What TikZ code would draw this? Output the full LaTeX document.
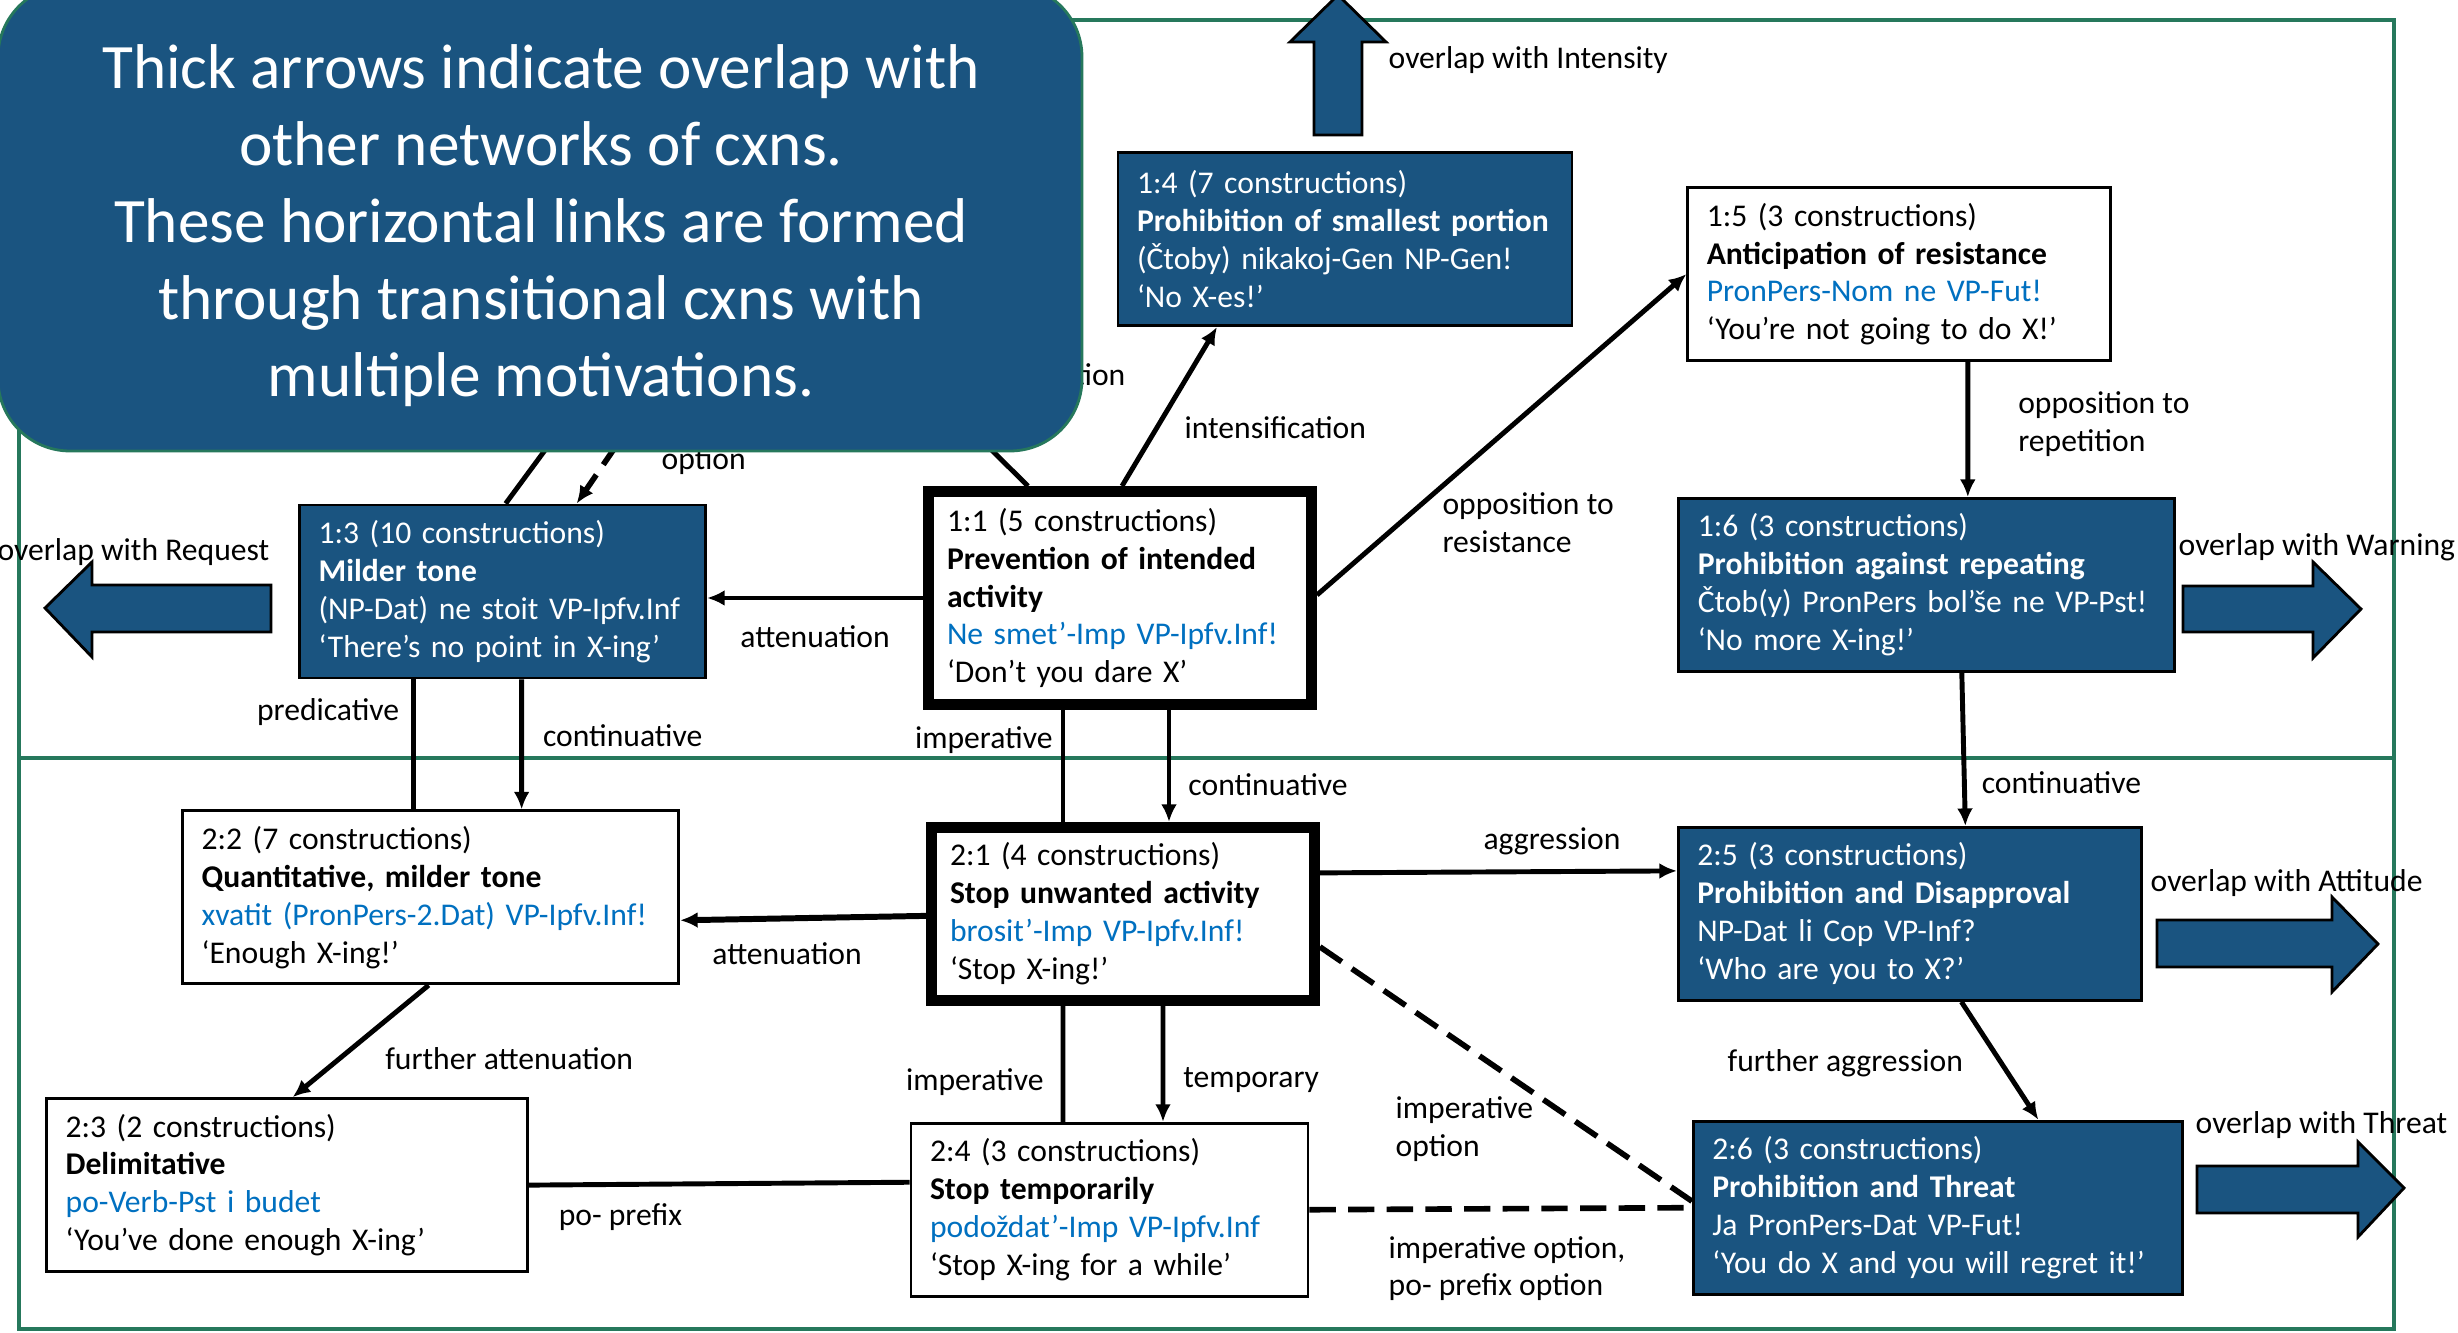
\documentclass[tikz,border=0pt]{standalone}
\usepackage{fontspec}
\setmainfont{Carlito}
\usepackage{xcolor}
\usepackage{tikz}
\usetikzlibrary{positioning, arrows.meta}

\definecolor{cxnfill}{RGB}{26,84,128}
\definecolor{cxnpattern}{RGB}{0,112,192}
\definecolor{framegreen}{RGB}{38,120,92}
\newcommand{\cxnform}[1]{\textcolor{cxnpattern}{#1}}

\begin{document}
\begin{tikzpicture}[node distance=1cm,>={Latex[length=5pt,width=4.5pt]},
    cxn/.style={draw, line width=0.8pt, fill=white, minimum height=1.73cm, inner xsep=0.19cm, inner ysep=0pt, align=left, font=\fontsize{9}{10.8}\selectfont},
    cxnblue/.style={cxn, fill=cxnfill, text=white},
    cxnmain/.style={cxn, line width=3.1pt, minimum height=2.13cm, inner xsep=0.185cm},
    link/.style={line width=1.4pt},
    optlink/.style={line width=1.6pt, dash pattern=on 7.5pt off 3.5pt},
    edgelabel/.style={inner sep=0pt, align=left, font=\fontsize{9}{10.8}\selectfont},
    overlaparrow/.style={draw, line width=0.8pt, fill=cxnfill},
    frameline/.style={draw=framegreen, line width=0.9pt},
    notebox/.style={fill=cxnfill, draw=framegreen, line width=0.8pt, rounded corners=0.72cm},
    notefont/.style={text=white, align=center, font=\fontsize{18}{21.9}\selectfont}]
        \useasboundingbox (0,0) rectangle (24.58,13.33);

        % Frame
        \draw[frameline] (0.19,0.04) rectangle (23.94,13.13);
        \draw[frameline] (0.19,5.75) -- (23.94,5.75);

        % Nodes
        \node (n11) [cxnmain, text width=3.46cm] at (11.20,7.35) {1:1 (5 constructions)\\\textbf{Prevention of intended}\\\textbf{activity}\\\cxnform{Ne smet’-Imp VP-Ipfv.Inf!}\\‘Don’t you dare X’};
        \node (n21) [cxnmain, text width=3.46cm, minimum height=1.73cm, below=1.12cm of n11, xshift=0.03cm] {2:1 (4 constructions)\\\textbf{Stop unwanted activity}\\\cxnform{brosit’-Imp VP-Ipfv.Inf!}\\‘Stop X-ing!’};
        \node (n24) [cxn, text width=3.59cm, below=1.16cm of n21, xshift=-0.135cm] {2:4 (3 constructions)\\\textbf{Stop temporarily}\\\cxnform{podoždat’-Imp VP-Ipfv.Inf}\\‘Stop X-ing for a while’};
        \node (n13) [cxnblue, text width=3.68cm, left=2.16cm of n11, yshift=0.065cm] {1:3 (10 constructions)\\\textbf{Milder tone}\\(NP-Dat) ne stoit VP-Ipfv.Inf\\‘There’s no point in X-ing’};
        \node (n22) [cxn, text width=4.58cm, below=1.30cm of n13, xshift=-0.72cm] {2:2 (7 constructions)\\\textbf{Quantitative, milder tone}\\\cxnform{xvatit (PronPers-2.Dat) VP-Ipfv.Inf!}\\‘Enough X-ing!’};
        \node (n23) [cxn, text width=4.43cm, below=1.12cm of n22, xshift=-1.435cm] {2:3 (2 constructions)\\\textbf{Delimitative}\\\cxnform{po-Verb-Pst i budet}\\‘You’ve done enough X-ing’};
        \node (n14) [cxnblue, text width=4.16cm, above=1.59cm of n11, xshift=2.25cm] {1:4 (7 constructions)\\\textbf{Prohibition of smallest portion}\\(Čtoby) nikakoj-Gen NP-Gen!\\‘No X-es!’};
        \node (n15) [cxn, text width=3.85cm, right=1.13cm of n14, yshift=-0.35cm] {1:5 (3 constructions)\\\textbf{Anticipation of resistance}\\\cxnform{PronPers-Nom ne VP-Fut!}\\‘You’re not going to do X!’};
        \node (n16) [cxnblue, text width=4.58cm, below=1.35cm of n15, xshift=0.275cm] {1:6 (3 constructions)\\\textbf{Prohibition against repeating}\\Čtob(y) PronPers bol’še ne VP-Pst!\\‘No more X-ing!’};
        \node (n25) [cxnblue, text width=4.25cm, right=3.57cm of n21] {2:5 (3 constructions)\\\textbf{Prohibition and Disapproval}\\NP-Dat li Cop VP-Inf?\\‘Who are you to X?’};
        \node (n26) [cxnblue, text width=4.51cm, below=1.18cm of n25, xshift=0.28cm] {2:6 (3 constructions)\\\textbf{Prohibition and Threat}\\Ja PronPers-Dat VP-Fut!\\‘You do X and you will regret it!’};

        % Overlap arrows
        \draw[overlaparrow] (13.14,11.98) -- (13.14,12.91) -- (12.90,12.91) -- (13.38,13.38) -- (13.86,12.91) -- (13.62,12.91) -- (13.62,11.98) -- cycle;
        \draw[overlaparrow] (2.71,7.48) -- (0.92,7.48) -- (0.92,7.71) -- (0.45,7.25) -- (0.92,6.76) -- (0.92,7.01) -- (2.71,7.01) -- cycle;
        \draw[overlaparrow] (21.83,7.47) -- (23.13,7.47) -- (23.13,7.71) -- (23.61,7.24) -- (23.13,6.75) -- (23.13,7.01) -- (21.83,7.01) -- cycle;
        \draw[overlaparrow] (21.57,4.13) -- (23.32,4.13) -- (23.32,4.36) -- (23.78,3.89) -- (23.32,3.41) -- (23.32,3.66) -- (21.57,3.66) -- cycle;
        \draw[overlaparrow] (21.97,1.67) -- (23.58,1.67) -- (23.58,1.91) -- (24.04,1.45) -- (23.58,0.96) -- (23.58,1.20) -- (21.97,1.20) -- cycle;
        \node (lblintensity) [edgelabel, anchor=west] at (13.88,12.73) {overlap with Intensity};
        \node (lblrequest) [edgelabel, anchor=east] at (2.70,7.81) {overlap with Request};
        \node (lblwarning) [edgelabel, anchor=west] at (21.78,7.86) {overlap with Warning};
        \node (lblattitude) [edgelabel, anchor=west] at (21.50,4.50) {overlap with Attitude};
        \node (lblthreat) [edgelabel, anchor=west] at (21.95,2.08) {overlap with Threat};

        % Arrows
        \draw[link, ->] ([xshift=0.02cm]n11.north) -- node[edgelabel, pos=0.37, right=0.25cm] {intensification} ([xshift=-1.28cm]n14.south);
        \draw[link, ->] ([yshift=0.03cm]n11.east) -- node[edgelabel, pos=0.225, right=0.4cm] {opposition to\\resistance} (n15.west);
        \draw[link, ->] ([xshift=0.685cm]n15.south) -- node[edgelabel, pos=0.46, right=0.48cm] {opposition to\\repetition} ([xshift=0.41cm]n16.north);
        \draw[link, ->] ([xshift=0.35cm]n16.south) -- node[edgelabel, pos=0.72, right=0.15cm] {continuative} ([xshift=0.555cm]n25.north);
        \draw[link, ->] (n11.west) -- node[edgelabel, midway, below=0.25cm] {attenuation} ([yshift=-0.065cm]n13.east);
        \draw[link, ->] ([xshift=0.19cm]n13.south) -- node[edgelabel, pos=0.43, right=0.19cm] {continuative} ([xshift=0.91cm]n22.north);
        \draw[link] ([xshift=-0.89cm]n13.south) -- node[edgelabel, pos=0.25, left=0.12cm] {predicative} ([xshift=-0.17cm]n22.north);
        \draw[link] ([xshift=-0.57cm]n11.south) -- node[edgelabel, pos=0.27, left=0.08cm] {imperative} ([xshift=-0.60cm]n21.north);
        \draw[link, ->] ([xshift=0.49cm]n11.south) -- node[edgelabel, pos=0.67, right=0.17cm] {continuative} ([xshift=0.46cm]n21.north);
        \draw[link, line width=1.7pt, ->] ([yshift=-0.02cm]n21.west) -- node[edgelabel, midway, below=0.22cm, xshift=-0.16cm] {attenuation} ([yshift=-0.23cm]n22.east);
        \draw[link, ->] ([xshift=-0.02cm]n22.south) -- node[edgelabel, pos=0.66, right=0.44cm] {further attenuation} ([xshift=0.055cm]n23.north);
        \draw[link] ([xshift=-0.60cm]n21.south) -- node[edgelabel, pos=0.66, left=0.17cm] {imperative} ([xshift=-0.465cm]n24.north);
        \draw[link, ->] ([xshift=0.40cm]n21.south) -- node[edgelabel, pos=0.64, right=0.18cm] {temporary} ([xshift=0.535cm]n24.north);
        \draw[link] (n23.east) -- node[edgelabel, pos=0.24, below=0.17cm] {po- prefix} ([yshift=0.275cm]n24.west);
        \draw[optlink] (n24.east) -- node[edgelabel, pos=0.2, anchor=north west, yshift=-0.24cm] {imperative option,\\po- prefix option} (n26.west);
        \draw[optlink] ([yshift=-0.33cm]n21.east) -- node[edgelabel, pos=0.715, left=0.5cm] {imperative\\option} ([yshift=0.065cm]n26.west);
        \draw[link, ->] ([yshift=0.41cm]n21.east) -- node[edgelabel, pos=0.65, above=0.14cm] {aggression} ([yshift=0.43cm]n25.west);
        \draw[link, ->] ([xshift=0.515cm]n25.south) -- node[edgelabel, pos=0.52, left=0.36cm] {further aggression} ([xshift=1.005cm]n26.north);

        % Links running under the note
        \coordinate (hidA) at (9.50,9.24);
        \coordinate (hidB) at (5.82,9.33);
        \coordinate (hidC) at (6.40,9.22);
        \draw[link] ([xshift=-0.92cm]n11.north) -- (hidA);
        \draw[link] ([xshift=0.03cm]n13.north) -- (hidB);
        \draw[optlink, ->] (hidC) -- node[edgelabel, pos=0.54, right=0.53cm] {option} ([xshift=0.74cm]n13.north);
        \node (lbltion) [edgelabel, anchor=east] at (11.26,9.58) {tion};

        % Note
        \draw[notebox] (-0.02,8.82) rectangle (10.82,13.48);
        \node (note) [notefont] at (5.41,11.07) {Thick arrows indicate overlap with\\other networks of cxns.\\These horizontal links are formed\\through transitional cxns with\\multiple motivations.};

    \end{tikzpicture}
\end{document}
